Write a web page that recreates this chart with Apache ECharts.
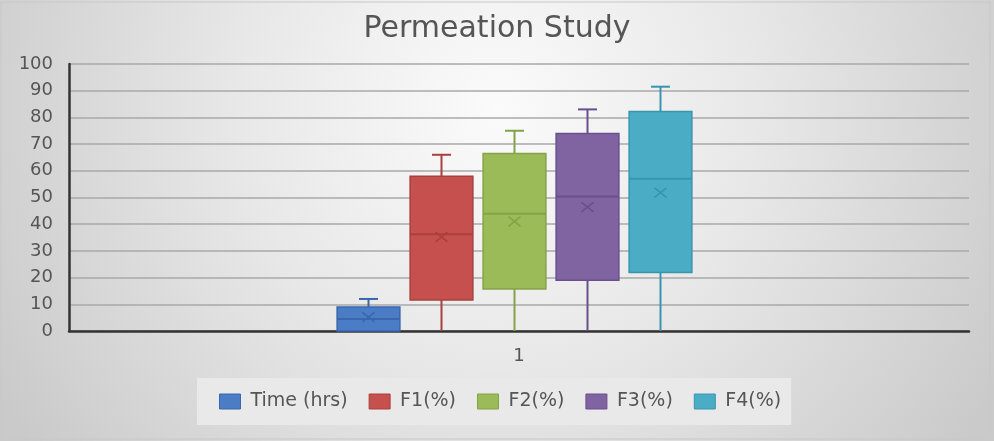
<!DOCTYPE html>
<html>
<head>
<meta charset="utf-8">
<script src="https://cdn.jsdelivr.net/npm/echarts@6/dist/echarts.min.js"></script>
<style>
    html, body { margin: 0; padding: 0; }
    #main { width: 994px; height: 441px; }
</style>
</head>
<body>
<div id="main"></div>
<script type="text/javascript">
    // data
    var categories = ['1'];
    var seriesNames = ['Time (hrs)', 'F1(%)', 'F2(%)', 'F3(%)', 'F4(%)'];
    var mins    = [0, 0, 0, 0, 0];
    var q1s     = [0, 11.6, 15.7, 19, 21.9];
    var medians = [4.5, 36.2, 43.9, 50.4, 57];
    var q3s     = [9, 58, 66.5, 74, 82.2];
    var maxs    = [12, 66, 75, 83, 91.5];
    var means   = [5.2, 35.2, 41, 46.4, 51.8];
    var yMin = 0, yMax = 100, yStep = 10;

    // styles
    var fills = ['#4a7dc6', '#c6504d', '#9bbb59', '#8064a2', '#4bacc6'];
    var darks = ['#3a67ac', '#a8403d', '#84a246', '#694f8c', '#3895ae'];
    var textColor = '#555555';
    var font = 'DejaVu Sans';

    var myChart = echarts.init(document.getElementById('main'));

    // box, whiskers, median and mean cross for one series
    function renderBox(params, api) {
        var i = api.value(0);
        var lo = api.coord([i, api.value(1)]);
        var q1 = api.coord([i, api.value(2)]);
        var md = api.coord([i, api.value(3)]);
        var q3 = api.coord([i, api.value(4)]);
        var hi = api.coord([i, api.value(5)]);
        var mn = api.coord([i, api.value(6)]);
        var band = api.size([1, 0])[0];
        var half = band * 0.43;
        var cap = band * 0.13;
        var cx = lo[0];
        var s = params.seriesIndex;
        var ls = { stroke: darks[s], lineWidth: 2 };
        var x = 6;
        return {
            type: 'group',
            children: [
                { type: 'line', shape: { x1: cx, y1: lo[1], x2: cx, y2: q1[1] }, style: ls },
                { type: 'line', shape: { x1: cx, y1: q3[1], x2: cx, y2: hi[1] }, style: ls },
                { type: 'line', shape: { x1: cx - cap, y1: hi[1], x2: cx + cap, y2: hi[1] }, style: ls },
                { type: 'rect', shape: { x: cx - half, y: q3[1], width: half * 2, height: q1[1] - q3[1] },
                  style: { fill: fills[s], stroke: darks[s], lineWidth: 1.5 } },
                { type: 'line', shape: { x1: cx - half, y1: md[1], x2: cx + half, y2: md[1] }, style: ls },
                { type: 'line', shape: { x1: cx - x, y1: mn[1] - x * 0.8, x2: cx + x, y2: mn[1] + x * 0.8 }, style: { stroke: darks[s], lineWidth: 1.6 } },
                { type: 'line', shape: { x1: cx - x, y1: mn[1] + x * 0.8, x2: cx + x, y2: mn[1] - x * 0.8 }, style: { stroke: darks[s], lineWidth: 1.6 } }
            ]
        };
    }

    var series = seriesNames.map(function (name, i) {
        return {
            name: name,
            type: 'custom',
            xAxisIndex: 1,
            yAxisIndex: 1,
            itemStyle: { color: fills[i] },
            encode: { x: 0, y: [1, 2, 3, 4, 5] },
            renderItem: renderBox,
            data: [[i, mins[i], q1s[i], medians[i], q3s[i], maxs[i], means[i]]]
        };
    });

    myChart.setOption({
        backgroundColor: {
            type: 'radial', x: 0.5, y: 0.25, r: 1.3,
            colorStops: [
                { offset: 0, color: '#fbfbfb' },
                { offset: 0.45, color: '#e8e8e8' },
                { offset: 1, color: '#cacaca' }
            ]
        },
        title: {
            text: 'Permeation Study',
            left: 'center',
            top: 9,
            textStyle: { color: textColor, fontFamily: font, fontSize: 30, fontWeight: 'normal' }
        },
        graphic: [{
            type: 'rect',
            shape: { x: 1, y: 2, width: 989, height: 437 },
            style: { fill: 'none', stroke: '#c8c8c8', lineWidth: 1 },
            silent: true
        }],
        legend: {
            data: seriesNames.map(function (n, i) {
                return { name: n, itemStyle: { borderColor: darks[i], borderWidth: 1 } };
            }),
            icon: 'rect',
            left: 197,
            top: 378,
            padding: [14, 10, 14, 22],
            itemGap: 21,
            itemWidth: 21,
            itemHeight: 15,
            backgroundColor: '#e9e9e9',
            textStyle: { color: textColor, fontFamily: font, fontSize: 19, padding: [0, 0, 0, 5] }
        },
        grid: [
            { left: 69, right: 25, top: 64, bottom: 110 },
            { left: 332, width: 365, top: 64, bottom: 110 }
        ],
        xAxis: [{
            type: 'category',
            gridIndex: 0,
            data: categories,
            axisLine: { lineStyle: { color: '#333333', width: 2.5 } },
            axisTick: { show: false },
            axisLabel: { color: textColor, fontFamily: font, fontSize: 18, margin: 16 }
        }, {
            type: 'category',
            gridIndex: 1,
            data: seriesNames,
            show: false
        }],
        yAxis: [{
            type: 'value',
            gridIndex: 0,
            min: yMin,
            max: yMax,
            interval: yStep,
            axisLine: { show: true, lineStyle: { color: '#333333', width: 2.5 } },
            axisTick: { show: false },
            axisLabel: { color: textColor, fontFamily: font, fontSize: 18, margin: 16 },
            splitLine: { lineStyle: { color: '#a8a8a8', width: 1.5 } }
        }, {
            type: 'value',
            gridIndex: 1,
            min: yMin,
            max: yMax,
            show: false
        }],
        series: series
    });
</script>
</body>
</html>
